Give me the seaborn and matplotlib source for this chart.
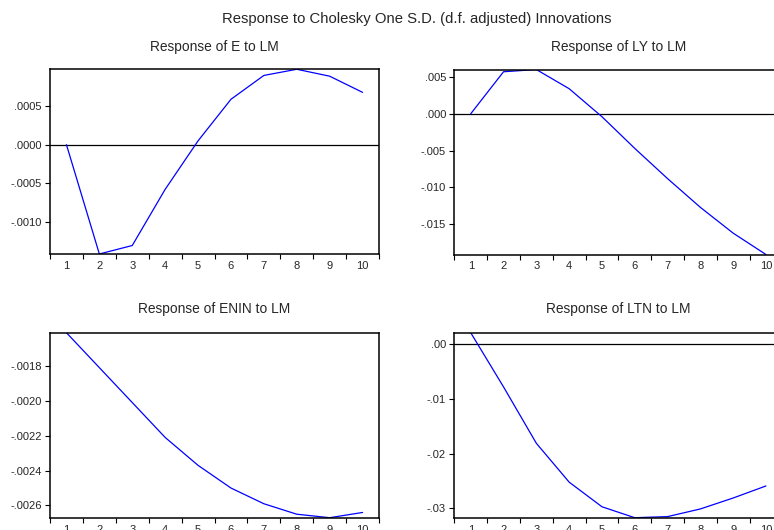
import matplotlib
matplotlib.use("Agg")
import matplotlib.pyplot as plt
import seaborn as sns
import pandas as pd
from matplotlib.ticker import FixedLocator, FuncFormatter

# Impulse responses (periods 1..10)
periods = [1, 2, 3, 4, 5, 6, 7, 8, 9, 10]
resp_e = [0.0, -0.00142, -0.00131, -0.00058, 0.00005, 0.00059, 0.00090, 0.00098, 0.00089, 0.00068]
resp_ly = [0.0, 0.0057, 0.0060, 0.0034, -0.0004, -0.0047, -0.0088, -0.0127, -0.0162, -0.0191]
resp_enin = [-0.00161, -0.00181, -0.00201, -0.00221, -0.00237, -0.00250, -0.00259, -0.00265, -0.00267, -0.00264]
resp_ltn = [0.0021, -0.0078, -0.0181, -0.0252, -0.0297, -0.0317, -0.0315, -0.0301, -0.0281, -0.0259]

titles = ["Response of E to LM", "Response of LY to LM",
          "Response of ENIN to LM", "Response of LTN to LM"]
yticks_e = [-0.0010, -0.0005, 0.0, 0.0005]
yticks_ly = [-0.015, -0.010, -0.005, 0.0, 0.005]
yticks_enin = [-0.0026, -0.0024, -0.0022, -0.0020, -0.0018]
yticks_ltn = [-0.03, -0.02, -0.01, 0.0]

sns.set_theme(style="white")
plt.rcParams["font.family"] = ["Liberation Sans", "DejaVu Sans"]

fig = plt.figure(figsize=(7.74, 5.30), dpi=100)

positions = [
    [0.0646, 0.5208, 0.4251, 0.3485],
    [0.5870, 0.5198, 0.4238, 0.3490],
    [0.0646, 0.0232, 0.4251, 0.3490],
    [0.5870, 0.0232, 0.4238, 0.3490],
]
series = [resp_e, resp_ly, resp_enin, resp_ltn]
ticks = [yticks_e, yticks_ly, yticks_enin, yticks_ltn]
decimals = [4, 3, 4, 2]
title_pads = [13.5, 13.5, 14, 14]


def eviews_fmt(d):
    # EViews style: no leading zero, ".0000" for zero
    def f(v, pos):
        s = f"{v:.{d}f}"
        if float(s) == 0:
            s = s.lstrip("-")
        if s.startswith("-0."):
            return "-" + s[2:]
        if s.startswith("0."):
            return s[1:]
        return s
    return f


for pos, vals, title, yt, d, tp in zip(positions, series, titles, ticks, decimals, title_pads):
    ax = fig.add_axes(pos)
    df = pd.DataFrame({"period": periods, "value": vals})
    sns.lineplot(data=df, x="period", y="value", ax=ax, color="#0000FF", linewidth=0.9)
    lo, hi = min(vals), max(vals)
    if lo <= 0 <= hi:
        ax.axhline(0, color="black", linewidth=0.9, zorder=1)
    ax.set_xlim(0.5, 10.5)
    ax.set_ylim(lo, hi)
    ax.set_xlabel("")
    ax.set_ylabel("")
    ax.set_title(title, fontsize=9.9, pad=tp)
    ax.xaxis.set_major_locator(FixedLocator(periods))
    ax.xaxis.set_minor_locator(FixedLocator([p - 0.5 for p in periods] + [10.5]))
    ax.yaxis.set_major_locator(FixedLocator(yt))
    ax.yaxis.set_major_formatter(FuncFormatter(eviews_fmt(d)))
    ax.tick_params(axis="x", which="major", length=0, pad=5, labelsize=8)
    ax.tick_params(axis="x", which="minor", bottom=True, length=3.5, width=0.8, color="black", direction="out")
    ax.tick_params(axis="y", which="major", left=True, length=3.5, width=0.8, color="black",
                   direction="out", pad=2.5, labelsize=8)
    for sp in ax.spines.values():
        sp.set_color("black")
        sp.set_linewidth(1.1)

fig.text(417 / 774, 1 - 18.5 / 530, "Response to Cholesky One S.D. (d.f. adjusted) Innovations",
         ha="center", va="center", fontsize=10.7)

fig.savefig("out.png", dpi=100)
